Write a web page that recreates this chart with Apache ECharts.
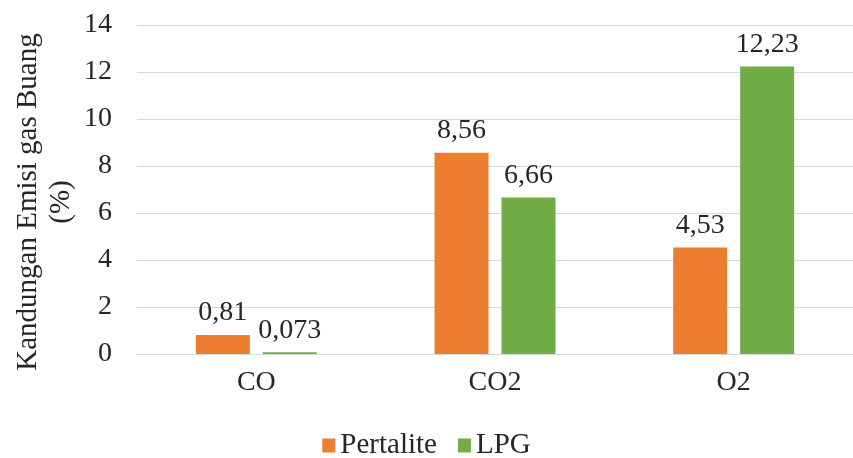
<!DOCTYPE html>
<html><head><meta charset="utf-8">
<script src="https://cdn.jsdelivr.net/npm/echarts@6/dist/echarts.min.js"></script>
<style>html,body{margin:0;padding:0;background:#fff}#c{width:853px;height:458px}</style>
</head><body><div id="c"></div>
<script>
const categories = ['CO', 'CO2', 'O2'];
const pertalite = [0.81, 8.56, 4.53];
const lpg = [0.073, 6.66, 12.23];
const seriesNames = ['Pertalite', 'LPG'];
const yTitle = 'Kandungan Emisi gas Buang\n(%)';

const FONT = '"Liberation Serif", "Times New Roman", serif';
const TXT = '#262626';
const fmt = p => String(p.value).replace('.', ',');

const chart = echarts.init(document.getElementById('c'));
chart.setOption({
  animation: false,
  textStyle: { fontFamily: FONT },
  grid: { left: 137, width: 720, top: 25, bottom: 104, containLabel: false },
  legend: {
    data: seriesNames, left: 'center', top: 426, icon: 'rect',
    itemWidth: 13, itemHeight: 14, itemGap: 21,
    textStyle: { fontFamily: FONT, fontSize: 29, color: TXT }
  },
  xAxis: {
    type: 'category', data: categories,
    axisLine: { lineStyle: { color: '#d9d9d9', width: 1 } },
    axisTick: { show: false },
    axisLabel: { fontFamily: FONT, fontSize: 28, color: TXT, margin: 15 }
  },
  yAxis: {
    type: 'value', min: 0, max: 14, interval: 2,
    axisLine: { show: false }, axisTick: { show: false },
    splitLine: { lineStyle: { color: '#d9d9d9', width: 1 } },
    axisLabel: { fontFamily: FONT, fontSize: 28, color: TXT, margin: 25 }
  },
  graphic: [{
    type: 'text', x: 45, y: 202, rotation: Math.PI / 2,
    style: { text: yTitle, fontFamily: FONT, fontSize: 29, fill: TXT,
      align: 'center', verticalAlign: 'middle', lineHeight: 33 }
  }],
  series: [
    { name: seriesNames[0], type: 'bar', data: pertalite, barWidth: 54, barGap: '24%',
      itemStyle: { color: '#ed7d31' },
      label: { show: true, position: 'top', distance: 8, formatter: fmt,
        fontFamily: FONT, fontSize: 28, color: TXT } },
    { name: seriesNames[1], type: 'bar', data: lpg, barWidth: 54, barGap: '24%',
      itemStyle: { color: '#70ad47' },
      label: { show: true, position: 'top', distance: 8, formatter: fmt,
        fontFamily: FONT, fontSize: 28, color: TXT } }
  ]
});
</script></body></html>
